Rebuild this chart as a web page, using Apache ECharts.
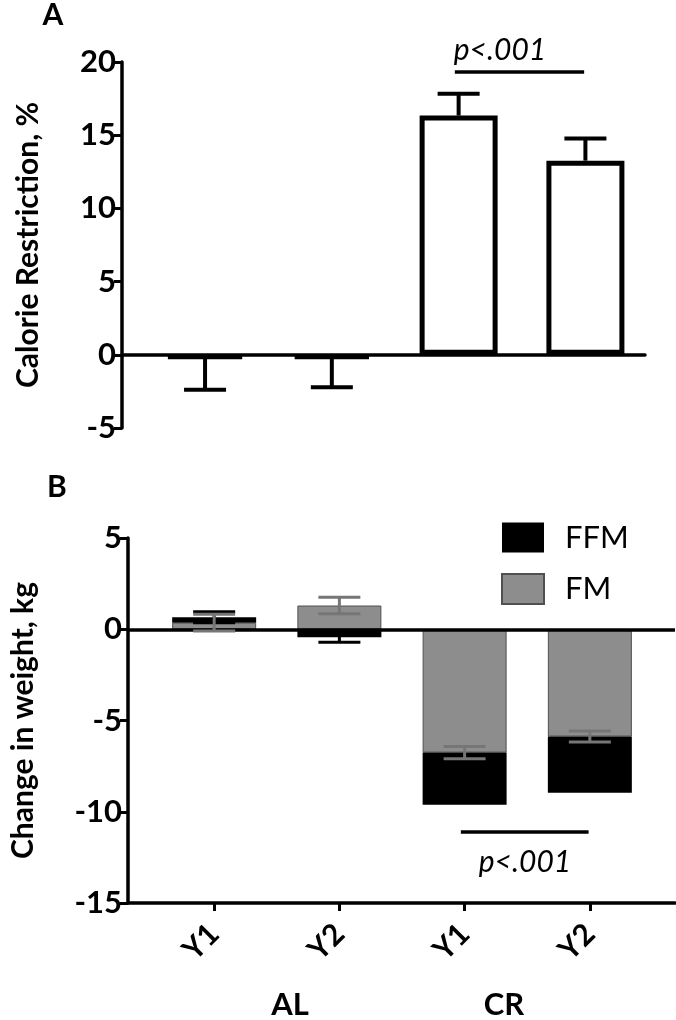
<!DOCTYPE html>
<html>
<head>
<meta charset="utf-8">
<script src="https://cdn.jsdelivr.net/npm/echarts@6/dist/echarts.min.js"></script>
<style>
html,body{margin:0;padding:0;background:#fff;}
#c{width:676px;height:1020px;}
</style>
</head>
<body>
<div id="c"></div>
<script>
// ---- data ----
const categories = ['Y1', 'Y2', 'Y1', 'Y2'];
const groupLabels = ['AL', 'CR'];
const xPos = [1, 2, 3, 4];
// Panel A: calorie restriction (%)
const crValues = [-0.25, -0.25, 16.34, 13.26];
const crErrors = [2.14, 1.96, 1.49, 1.52];
// Panel B: change in weight (kg)
const fmValues = [0.36, 1.3, -6.76, -5.88];
const fmErrors = [0.46, 0.45, 0.33, 0.30];
const ffmValues = [0.30, -0.44, -2.86, -3.08];
const ffmErrors = [0.30, 0.27, null, null];
const pText = 'p<.001';
const pLineA = [2.97, 3.99, 19.33];
const pLineB = [2.97, 3.99, -11.12];

const FONT = 'Lato';
const GRAY = '#8d8d8d';
const ERR_GRAY = '#767676';

// ---- derived series data ----
const barA = xPos.map((x, i) => [x, crValues[i]]);
const errA = xPos.map((x, i) => {
  const v = crValues[i], d = v >= 0 ? 1 : -1;
  return [x, v, v + d * crErrors[i], 0];
});
const fmBar = xPos.map((x, i) => [x, fmValues[i]]);
const ffmBar = xPos.map((x, i) => {
  const base = (fmValues[i] >= 0) === (ffmValues[i] >= 0) ? fmValues[i] : 0;
  return [x, base, base + ffmValues[i]];
});
const errFM = xPos.map((x, i) => [x, fmValues[i] - fmErrors[i], fmValues[i] + fmErrors[i], 1]);
const errFFM = [];
xPos.forEach((x, i) => {
  if (ffmErrors[i] == null) return;
  const end = ffmBar[i][2];
  errFFM.push([x, end - ffmErrors[i], end + ffmErrors[i], 1]);
});

function errRender(color, width, capHalf) {
  return function (params, api) {
    const x = api.value(0);
    const a = api.coord([x, api.value(1)]);
    const b = api.coord([x, api.value(2)]);
    const capA = api.value(3);
    const st = { stroke: color, lineWidth: width };
    const children = [
      { type: 'line', shape: { x1: a[0], y1: a[1], x2: b[0], y2: b[1] }, style: st },
      { type: 'line', shape: { x1: b[0] - capHalf, y1: b[1], x2: b[0] + capHalf, y2: b[1] }, style: st }
    ];
    if (capA) children.push({ type: 'line', shape: { x1: a[0] - capHalf, y1: a[1], x2: a[0] + capHalf, y2: a[1] }, style: st });
    return { type: 'group', children };
  };
}

function rectRender(width) {
  return function (params, api) {
    const x = api.value(0);
    const a = api.coord([x, api.value(1)]);
    const b = api.coord([x, api.value(2)]);
    return {
      type: 'rect',
      shape: { x: a[0] - width / 2, y: Math.min(a[1], b[1]), width: width, height: Math.abs(b[1] - a[1]) },
      style: { fill: api.visual('color') }
    };
  };
}

const chart = echarts.init(document.getElementById('c'), null, { renderer: 'canvas' });

const yAxisCommon = {
  type: 'value',
  splitLine: { show: false },
  axisLine: { show: true, onZero: false, lineStyle: { color: '#000', width: 3.5 } },
  axisTick: { show: true, length: 8, lineStyle: { color: '#000', width: 3 } },
  axisLabel: { color: '#000', fontFamily: FONT, fontWeight: 'bold', fontSize: 31, margin: 6 },
  nameLocation: 'middle',
  nameTextStyle: { color: '#000', fontFamily: FONT, fontWeight: 'bold', fontSize: 30 }
};

const textStyle = (size, weight, style) => ({ fontFamily: FONT, fontSize: size, fontWeight: weight, fontStyle: style, fill: '#000' });

const option = {
  animation: false,
  backgroundColor: '#fff',
  grid: [
    { left: 122, top: 62, width: 523, height: 366 },
    { left: 122, top: 538, width: 553, height: 365 }
  ],
  xAxis: [
    {
      type: 'value', gridIndex: 0, min: 0.345, max: 4.47,
      splitLine: { show: false },
      axisLine: { show: true, onZero: true, lineStyle: { color: '#000', width: 3.5 } },
      axisTick: { show: false }, axisLabel: { show: false }
    },
    {
      type: 'value', gridIndex: 1, min: 0.312, max: 4.68,
      splitLine: { show: false },
      axisLine: { show: true, onZero: false, lineStyle: { color: '#000', width: 3.5 } },
      axisTick: { show: true, length: 8, customValues: xPos, lineStyle: { color: '#000', width: 3 } },
      axisLabel: {
        show: true, customValues: xPos, rotate: 45, margin: 26,
        color: '#000', fontFamily: FONT, fontWeight: 'bold', fontSize: 30,
        formatter: v => categories[Math.round(v) - 1] || ''
      }
    }
  ],
  yAxis: [
    Object.assign({}, yAxisCommon, { gridIndex: 0, min: -5, max: 20, interval: 5, name: 'Calorie Restriction, %', nameGap: 79 }),
    Object.assign({}, yAxisCommon, { gridIndex: 1, min: -15, max: 5, interval: 5, name: 'Change in weight, kg', nameGap: 90 })
  ],
  legend: {
    data: ['FFM', 'FM'],
    orient: 'vertical',
    left: 496, top: 517,
    icon: 'rect',
    itemWidth: 42, itemHeight: 30, itemGap: 20,
    textStyle: { color: '#000', fontFamily: FONT, fontSize: 31, padding: [0, 0, 0, 16] }
  },
  series: [
    {
      name: 'CR%', type: 'bar', xAxisIndex: 0, yAxisIndex: 0,
      data: barA, barWidth: 78,
      itemStyle: { color: '#fff', borderColor: '#000', borderWidth: 5 },
      z: 2
    },
    {
      name: 'errA', type: 'custom', xAxisIndex: 0, yAxisIndex: 0,
      renderItem: errRender('#000', 4, 21),
      encode: { x: 0, y: [1, 2] },
      data: errA, z: 4,
      markLine: {
        silent: true, symbol: 'none', label: { show: false },
        lineStyle: { color: '#000', width: 3.5, type: 'solid' },
        data: [[{ coord: [pLineA[0], pLineA[2]] }, { coord: [pLineA[1], pLineA[2]] }]]
      }
    },
    {
      name: 'FM', type: 'bar', xAxisIndex: 1, yAxisIndex: 1,
      data: fmBar, barWidth: 84,
      itemStyle: { color: GRAY, borderColor: '#505050', borderWidth: 1 },
      z: 2
    },
    {
      name: 'FFM', type: 'custom', xAxisIndex: 1, yAxisIndex: 1,
      renderItem: rectRender(84),
      encode: { x: 0, y: [1, 2] },
      itemStyle: { color: '#000' },
      data: ffmBar, z: 3
    },
    {
      name: 'errFFM', type: 'custom', xAxisIndex: 1, yAxisIndex: 1,
      renderItem: errRender('#000', 3, 21),
      encode: { x: 0, y: [1, 2] },
      data: errFFM, z: 4
    },
    {
      name: 'errFM', type: 'custom', xAxisIndex: 1, yAxisIndex: 1,
      renderItem: errRender(ERR_GRAY, 3, 21),
      encode: { x: 0, y: [1, 2] },
      data: errFM, z: 5,
      markLine: {
        silent: true, symbol: 'none', label: { show: false },
        lineStyle: { color: '#000', width: 3.5, type: 'solid' },
        data: [
          { yAxis: 0 },
          [{ coord: [pLineB[0], pLineB[2]] }, { coord: [pLineB[1], pLineB[2]] }]
        ]
      }
    }
  ],
  graphic: [
    { type: 'text', x: 53, y: 15, style: Object.assign({ text: 'A', align: 'center', verticalAlign: 'middle' }, textStyle(30, 'bold', 'normal')) },
    { type: 'text', x: 57, y: 487, style: Object.assign({ text: 'B', align: 'center', verticalAlign: 'middle' }, textStyle(30, 'bold', 'normal')) },
    { type: 'text', x: 500, y: 50, style: Object.assign({ text: pText, align: 'center', verticalAlign: 'middle' }, textStyle(30, 'normal', 'italic')) },
    { type: 'text', x: 525, y: 862, style: Object.assign({ text: pText, align: 'center', verticalAlign: 'middle' }, textStyle(30, 'normal', 'italic')) },
    { type: 'text', x: 290, y: 1005, style: Object.assign({ text: groupLabels[0], align: 'center', verticalAlign: 'middle' }, textStyle(31, 'bold', 'normal')) },
    { type: 'text', x: 504, y: 1005, style: Object.assign({ text: groupLabels[1], align: 'center', verticalAlign: 'middle' }, textStyle(31, 'bold', 'normal')) }
  ]
};
chart.setOption(option);
</script>
</body>
</html>
